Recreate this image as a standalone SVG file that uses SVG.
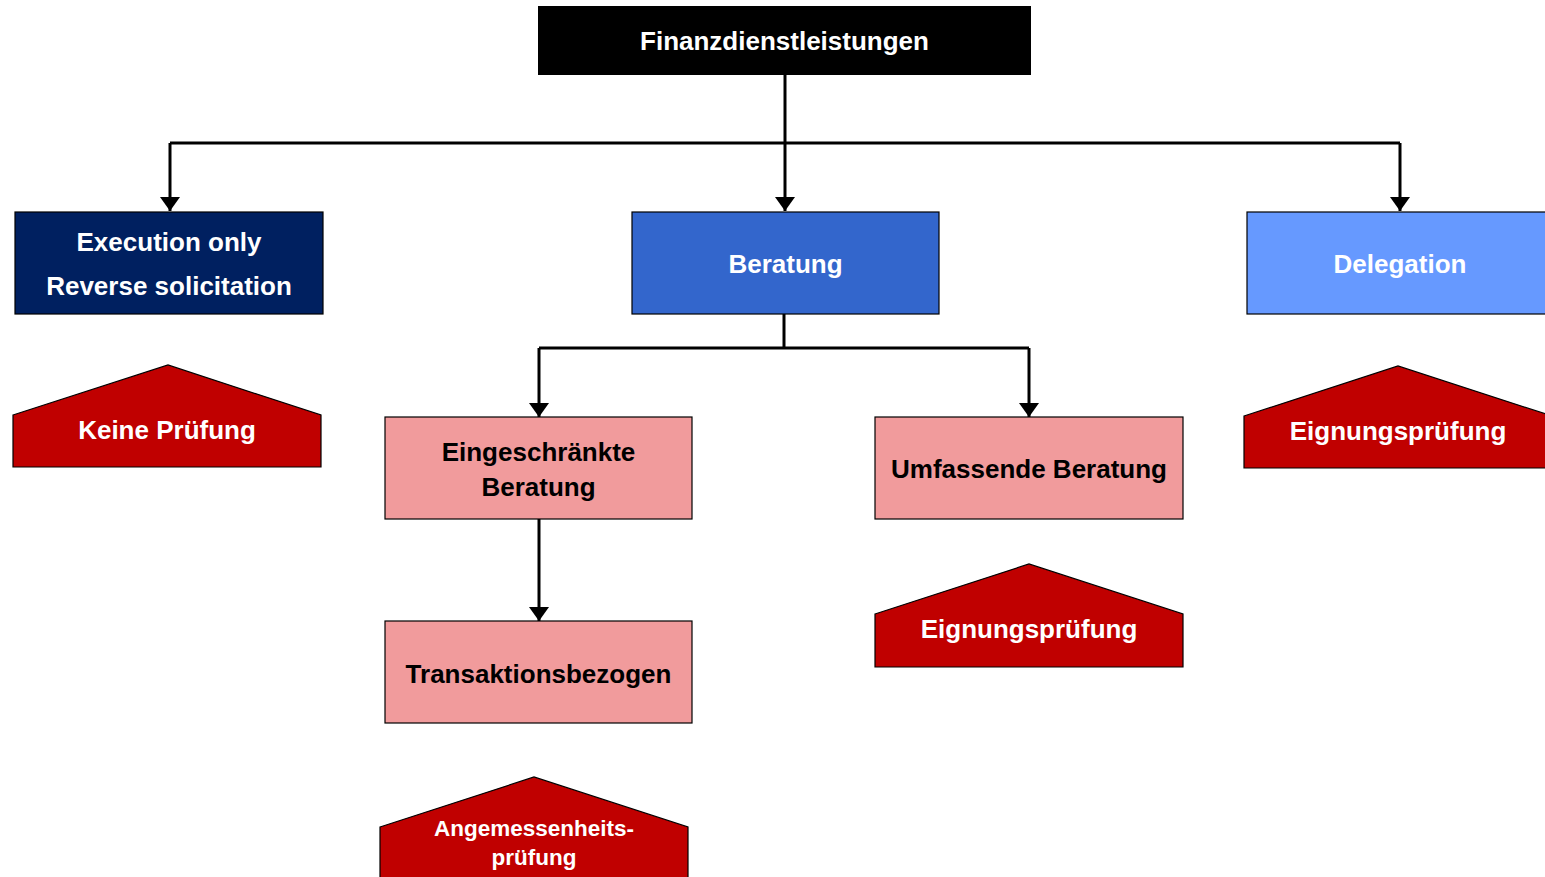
<svg xmlns="http://www.w3.org/2000/svg" width="1545" height="877" viewBox="0 0 1545 877">
<style>
text{font-family:"Liberation Sans",Arial,sans-serif;font-weight:bold;text-anchor:middle;dominant-baseline:central}
.w{fill:#fff}
.k{fill:#000}
.box{stroke:#000;stroke-width:1.2}
.pink{fill:#F19B9C}
.red{fill:#C00000;stroke:#000;stroke-width:1.2}
.con{stroke:#000;stroke-width:3;fill:none}
</style>
<defs>
<marker id="ah" markerWidth="14" markerHeight="20" refX="14" refY="10" orient="auto" markerUnits="userSpaceOnUse" viewBox="0 0 14 20">
<path d="M0,0 L14,10 L0,20 Z" fill="#000"/>
</marker>
</defs>
<g id="connectors">
<path class="con" d="M785,75 V143"/>
<path class="con" d="M170,143 H1400"/>
<path class="con" d="M170,143 V211" marker-end="url(#ah)"/>
<path class="con" d="M785,143 V211" marker-end="url(#ah)"/>
<path class="con" d="M1400,143 V211" marker-end="url(#ah)"/>
<path class="con" d="M784,314 V348"/>
<path class="con" d="M539,348 H1029"/>
<path class="con" d="M539,348 V417" marker-end="url(#ah)"/>
<path class="con" d="M1029,348 V417" marker-end="url(#ah)"/>
<path class="con" d="M539,519 V621" marker-end="url(#ah)"/>
</g>
<g id="root">
<rect x="538" y="6" width="493" height="69" fill="#000"/>
<text class="w" x="784.5" y="41" font-size="26">Finanzdienstleistungen</text>
</g>
<g id="execution">
<rect class="box" x="15" y="212" width="308" height="102" fill="#002060"/>
<text class="w" x="169" y="242" font-size="26">Execution only</text>
<text class="w" x="169" y="286" font-size="26">Reverse solicitation</text>
</g>
<g id="beratung">
<rect class="box" x="632" y="212" width="307" height="102" fill="#3366CC"/>
<text class="w" x="785.5" y="264" font-size="26">Beratung</text>
</g>
<g id="delegation">
<rect class="box" x="1247" y="212" width="308" height="102" fill="#6699FF"/>
<text class="w" x="1400" y="264" font-size="26">Delegation</text>
</g>
<g id="keine">
<polygon class="red" points="13,415 168,365 321,415 321,467 13,467"/>
<text class="w" x="167" y="430" font-size="26">Keine Prüfung</text>
</g>
<g id="eignung-delegation">
<polygon class="red" points="1244,416 1398,366 1552,416 1552,468 1244,468"/>
<text class="w" x="1398" y="431" font-size="26">Eignungsprüfung</text>
</g>
<g id="eingeschraenkt">
<rect class="box pink" x="385" y="417" width="307" height="102"/>
<text class="k" x="538.5" y="452" font-size="26">Eingeschränkte</text>
<text class="k" x="538.5" y="487" font-size="26">Beratung</text>
</g>
<g id="umfassend">
<rect class="box pink" x="875" y="417" width="308" height="102"/>
<text class="k" x="1029" y="469" font-size="26">Umfassende Beratung</text>
</g>
<g id="transaktion">
<rect class="box pink" x="385" y="621" width="307" height="102"/>
<text class="k" x="538.5" y="674" font-size="26">Transaktionsbezogen</text>
</g>
<g id="eignung-umfassend">
<polygon class="red" points="875,614 1029,564 1183,614 1183,667 875,667"/>
<text class="w" x="1029" y="629" font-size="26">Eignungsprüfung</text>
</g>
<g id="angemessenheit">
<polygon class="red" points="380,827 534,777 688,827 688,890 380,890"/>
<text class="w" x="534" y="828" font-size="22.5">Angemessenheits-</text>
<text class="w" x="534" y="857" font-size="22.5">prüfung</text>
</g>
</svg>
